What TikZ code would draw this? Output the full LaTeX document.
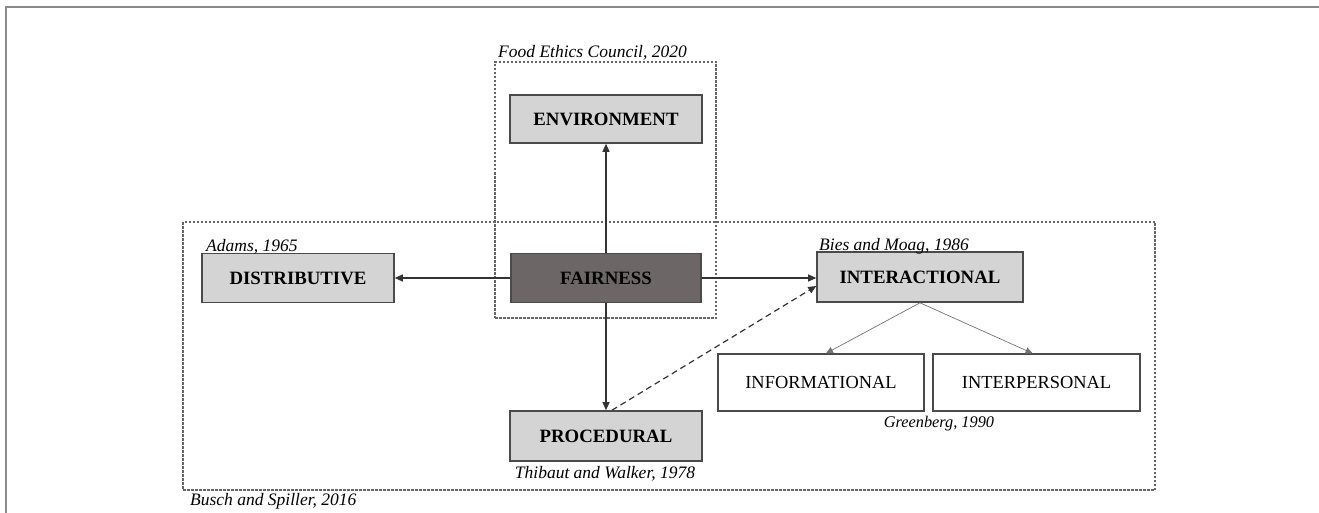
\documentclass[tikz,border=0pt]{standalone}
\usepackage{fontspec}
\setmainfont{Liberation Serif}
\usetikzlibrary{arrows.meta}
\definecolor{boxfill}{HTML}{D4D4D4}
\definecolor{corefill}{HTML}{6C6666}
\definecolor{boxline}{HTML}{4A4A4A}
\definecolor{groupline}{HTML}{666666}
\definecolor{frameline}{HTML}{8A8A8A}
\tikzset{
  dimbox/.style={draw=boxline, line width=1.6pt, fill=boxfill, inner sep=0pt,
    font=\fontsize{18.8}{20}\selectfont\bfseries},
  corebox/.style={dimbox, fill=corefill},
  subbox/.style={draw=boxline, line width=1.3pt, fill=white, inner sep=0pt,
    font=\fontsize{18.4}{20}\selectfont},
  groupbox/.style={draw=groupline, line width=1.1pt, dash pattern=on 2.5pt off 1.5pt, inner sep=0pt},
  source/.style={font=\fontsize{17.5}{19}\selectfont\itshape, inner sep=0pt},
  mainlink/.style={draw=black!80, line width=1.2pt, -{Triangle[length=8pt,width=7pt]}},
  sublink/.style={draw=black!55, line width=0.7pt, -{Triangle[length=7pt,width=6.5pt]}},
}
\begin{document}
\begin{tikzpicture}[x=1pt, y=-1pt]
  \useasboundingbox (0,0) rectangle (1319,513);
  % page frame
  \draw[frameline, line width=1.5pt] (6,513) -- (6,7) -- (1319,7);

  % grouping frames
  \node[groupbox, minimum width=972pt, minimum height=268pt] (bigframe) at (669,356) {};
  \node[groupbox, minimum width=221pt, minimum height=256pt] (foodframe) at (605.5,190) {};

  % dimensions
  \node[dimbox, minimum width=192pt, minimum height=48pt] (env) at (606,119) {ENVIRONMENT};
  \node[corebox, minimum width=190pt, minimum height=49pt] (fair) at (606,278) {FAIRNESS};
  \node[dimbox, minimum width=192pt, minimum height=49pt] (dist) at (298,278) {DISTRIBUTIVE};
  \node[dimbox, minimum width=206pt, minimum height=50pt] (inter) at (920,277) {INTERACTIONAL};
  \node[dimbox, minimum width=192pt, minimum height=50pt] (proc) at (606,436) {PROCEDURAL};
  \node[subbox, minimum width=206pt, minimum height=57pt] (info) at (821,382.5) {INFORMATIONAL};
  \node[subbox, minimum width=207pt, minimum height=57pt] (pers) at (1036.5,382.5) {INTERPERSONAL};

  % sources
  \node[source, anchor=base west] (srcfood) at (498,58) {Food Ethics Council, 2020};
  \node[source, anchor=base west] (srcadams) at (206,251) {Adams, 1965};
  \node[source, anchor=base west] (srcbies) at (819,250) {Bies and Moag, 1986};
  \node[source, anchor=base] (srcthib) at (605,478) {Thibaut and Walker, 1978};
  \node[source, anchor=base, font=\fontsize{16.3}{18}\selectfont\itshape] (srcgreen) at (939,427) {Greenberg, 1990};
  \node[source, anchor=base west] (srcbusch) at (190,505) {Busch and Spiller, 2016};

  % links
  \draw[mainlink] (fair.north) -- (env.south);
  \draw[mainlink] (fair.west) -- (dist.east);
  \draw[mainlink] (fair.east) -- (fair.east -| inter.west);
  \draw[mainlink] (fair.south) -- (proc.north);
  \draw[mainlink, dash pattern=on 6pt off 4pt] ([xshift=6pt]proc.north) -- ([yshift=-9pt]inter.west);
  \draw[sublink] (inter.south) -- ([xshift=5pt]info.north);
  \draw[sublink] (inter.south) -- ([xshift=-4pt]pers.north);
\end{tikzpicture}
\end{document}
